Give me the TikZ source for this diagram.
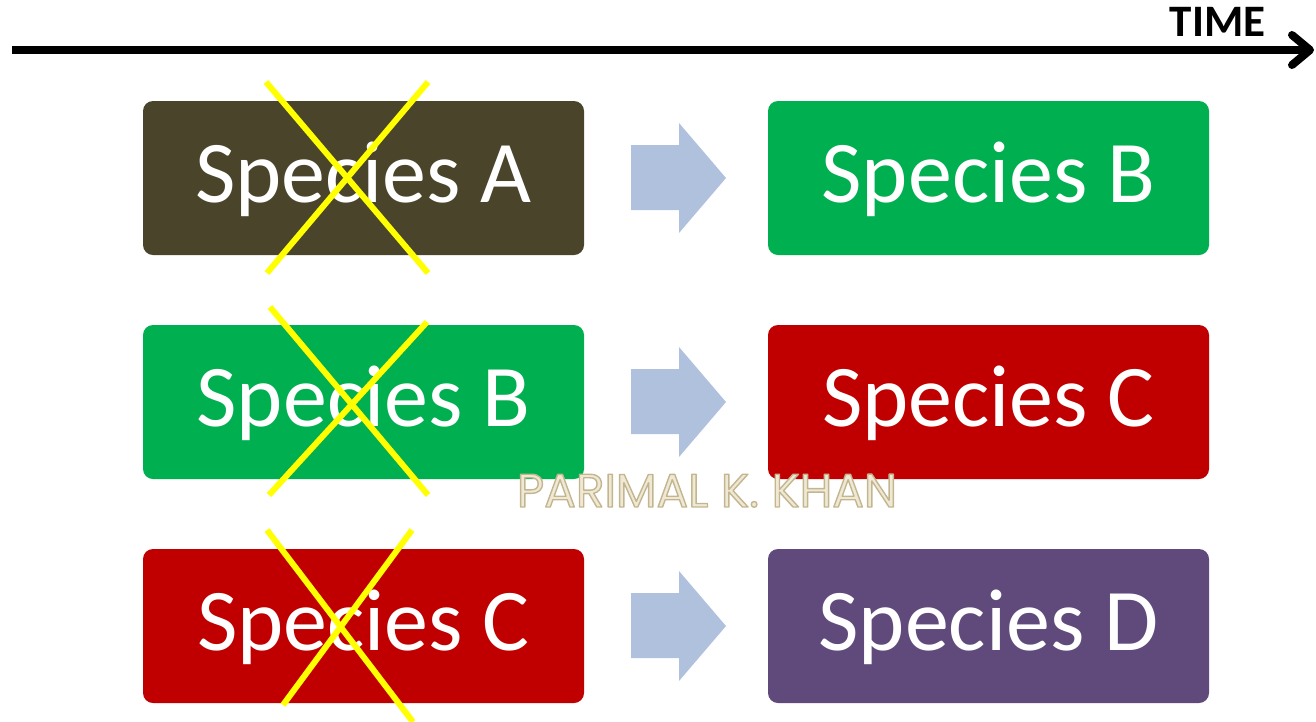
\documentclass[tikz,border=0pt]{standalone}
\usepackage{fontspec}
\setmainfont{Carlito}
\newfontfamily\markfont{Poppins}
\usetikzlibrary{calc}
\definecolor{olivebox}{HTML}{4A452A}
\definecolor{greenbox}{HTML}{00B050}
\definecolor{redbox}{HTML}{C00000}
\definecolor{purplebox}{HTML}{604A7B}
\definecolor{flowblue}{HTML}{B0C1DE}
\definecolor{crossyellow}{HTML}{FFFF00}
\definecolor{markfill}{HTML}{EEE8D5}
% block arrow pointing right, centred vertically on #1
\newcommand{\flowarrow}[1]{%
  \fill[flow] (631,#1-33) -- (679,#1-33) -- (679,#1-55) -- (726,#1)
    -- (679,#1+55) -- (679,#1+32) -- (631,#1+32) -- cycle;}
% hollow lettering: cream fill with a tan stroke (PDF text render mode 2)
\newcommand{\outlined}[1]{%
  \color{markfill}%
  \special{pdf:literal direct 0.765 0.714 0.561 RG 1.4 w 1 j 2 Tr}%
  #1%
  \special{pdf:literal direct 0 Tr}}
\begin{document}
\begin{tikzpicture}[x=1pt,y=-1pt,
  species/.style={fill=#1, rounded corners=10pt, minimum width=441pt,
    minimum height=154pt, inner sep=0pt, text=white,
    font=\fontsize{88}{88}\selectfont, text height=60pt, text depth=12pt},
  cross/.style={crossyellow, line width=6pt},
  flow/.style={fill=flowblue},
  timeline/.style={line width=8pt},
  markstyle/.style={font=\markfont\fontsize{47}{47}\selectfont, anchor=base, inner sep=0pt},
]
\useasboundingbox (0,0) rectangle (1316,721);

% time axis
\coordinate (tstart) at (12,50);
\coordinate (tend) at (1310,50);
\draw[timeline] (tstart) -- (tend);
\draw[timeline, line cap=round, line join=round]
  ($(tend)+(-18,-15)$) -- (tend) -- ($(tend)+(-18,15)$);
\node[font=\bfseries\fontsize{45}{45}\selectfont, anchor=base, inner sep=0pt]
  (time) at (1217.5,36) {TIME};

% species boxes, older generation on the left
\node[species=olivebox]  (a1) at (363.5,178) {Species A};
\node[species=greenbox]  (b1) at (988.5,178) {Species B};
\node[species=greenbox]  (a2) at (363.5,402) {Species B};
\node[species=redbox]    (b2) at (988.5,402) {Species C};
\node[species=redbox]    (a3) at (363.5,626) {Species C};
\node[species=purplebox] (b3) at (988.5,626) {Species D};

% succession arrows
\flowarrow{178}
\flowarrow{402}
\flowarrow{626}

% extinct species are crossed out
\draw[cross] (266,82) -- (428,273);
\draw[cross] (428,82) -- (267,273);
\draw[cross] (270,307) -- (428,495);
\draw[cross] (427,322) -- (269,495);
\draw[cross] (267,530) -- (413,722);
\draw[cross] (412,530) -- (283,705);

% watermark
\node[markstyle] (mark) at (707,507) {\outlined{PARIMAL K. KHAN}};
\end{tikzpicture}
\end{document}
